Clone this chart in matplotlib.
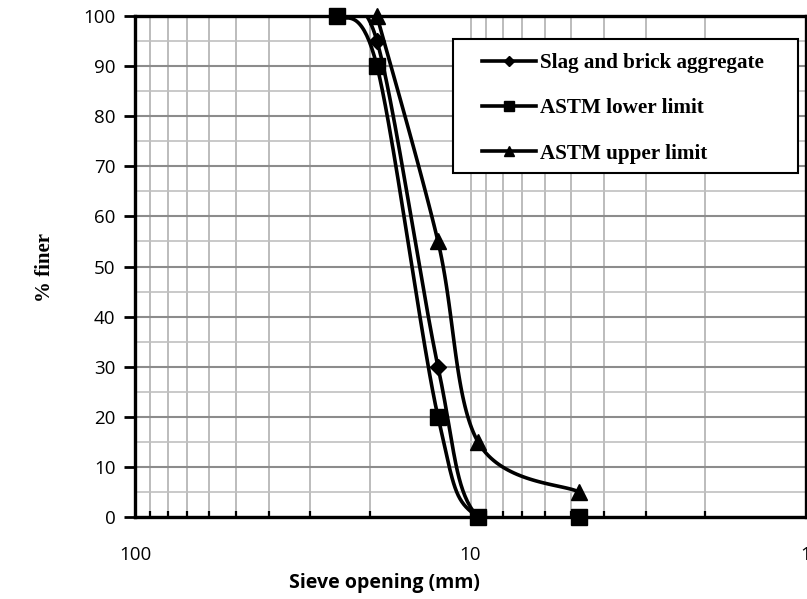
import numpy as np
import matplotlib.pyplot as plt
from matplotlib.patches import Rectangle
from matplotlib.ticker import FixedLocator, NullFormatter, FixedFormatter

# grading data: sieve size (mm) vs cumulative % passing
sieve_slag = [25, 19, 12.5, 9.5, 4.75]
finer_slag = [100, 95, 30, 0, 0]
sieve_lower = [25, 19, 12.5, 9.5, 4.75]
finer_lower = [100, 90, 20, 0, 0]
sieve_upper = [19, 12.5, 9.5, 4.75]
finer_upper = [100, 55, 15, 5]

x_major = [100, 10, 1]
x_minor = [m * d for d in (1, 10) for m in range(2, 10)]


def smooth(ax, xs, ys, n=40):
    # excel style bezier smoothing, done in pixel space
    p = ax.transData.transform(np.column_stack([xs, ys]))
    out = [p[0]]
    for i in range(len(p) - 1):
        p0 = p[i - 1] if i > 0 else p[i]
        p1, p2 = p[i], p[i + 1]
        p3 = p[i + 2] if i + 2 < len(p) else p[i + 1]
        c1 = p1 + (p2 - p0) / 6
        c2 = p2 - (p3 - p1) / 6
        t = np.linspace(0, 1, n)[1:, None]
        seg = ((1 - t) ** 3) * p1 + 3 * ((1 - t) ** 2) * t * c1 + 3 * (1 - t) * t ** 2 * c2 + t ** 3 * p2
        out.extend(seg)
    out = ax.transData.inverted().transform(np.array(out))
    return out[:, 0], out[:, 1]


fig = plt.figure(figsize=(8.07, 5.99), dpi=100)
W, H = 807, 599
ax = fig.add_axes([135 / W, 1 - 517 / H, (806 - 135) / W, (517 - 16) / H])
ax.set_xscale('log')
ax.set_xlim(100, 1)
ax.set_ylim(0, 100)

ax.xaxis.set_major_locator(FixedLocator(x_major))
ax.xaxis.set_major_formatter(FixedFormatter([str(v) for v in x_major]))
ax.xaxis.set_minor_locator(FixedLocator(x_minor))
ax.xaxis.set_minor_formatter(NullFormatter())
ax.set_yticks(range(0, 101, 10))
ax.set_yticks(range(5, 100, 10), minor=True)

ax.grid(True, which='major', axis='y', color='#8c8c8c', lw=1.5)
ax.grid(True, which='minor', axis='y', color='#c0c0c0', lw=1.2)
ax.grid(True, which='both', axis='x', color='#b0b0b0', lw=1.2)
ax.set_axisbelow(True)

ax.tick_params(axis='x', which='major', length=0, pad=21, labelsize=13.5)
ax.tick_params(axis='x', which='minor', direction='in', length=4, width=1.6, color='black')
ax.tick_params(axis='y', which='major', direction='out', length=8, width=2, labelsize=13.5, pad=6)
ax.tick_params(axis='y', which='minor', length=0)
for lab in ax.get_xticklabels() + ax.get_yticklabels():
    lab.set_family(['Open Sans', 'DejaVu Sans'])
for s in ax.spines.values():
    s.set_linewidth(2.4)
    s.set_color('black')

series = [
    (sieve_slag, finer_slag, 'D', 8, 'Slag and brick aggregate'),
    (sieve_lower, finer_lower, 's', 11, 'ASTM lower limit'),
    (sieve_upper, finer_upper, '^', 11, 'ASTM upper limit'),
]
handles = []
for xs, ys, mk, ms, name in series:
    sx, sy = smooth(ax, xs, ys)
    ax.plot(sx, sy, color='black', lw=2.6, solid_capstyle='round', zorder=3)
    ax.plot(xs, ys, ls='none', marker=mk, ms=ms, color='black', clip_on=False, zorder=4)
    h, = plt.plot([], [], color='black', lw=2.6, marker=mk, ms=ms * 0.6, label=name)
    handles.append(h)

# legend frame drawn separately so the padding can be set per side
fig.patches.append(Rectangle((453 / W, 1 - 173 / H), (798 - 453) / W, (173 - 39) / H,
                             transform=fig.transFigure, facecolor='white',
                             edgecolor='black', lw=1.5, zorder=5))
leg = fig.legend(handles=handles, loc='upper left', bbox_to_anchor=(482 / W, 1 - 53 / H),
                 frameon=False,
                 prop={'family': 'Liberation Serif', 'weight': 'bold', 'size': 15.2},
                 handlelength=2.55, handletextpad=0.2, labelspacing=1.2,
                 borderpad=0, borderaxespad=0)
leg.set_zorder(6)

fig.text(384 / W, 1 - 583 / H, 'Sieve opening (mm)', ha='center', va='center',
         fontsize=14, fontweight='bold', family=['Open Sans', 'DejaVu Sans'])
fig.text(45 / W, 1 - 267 / H, '% finer', ha='center', va='center', rotation=90,
         fontsize=15, fontweight='bold', family='Liberation Serif')

fig.savefig('out.png', dpi=100)
